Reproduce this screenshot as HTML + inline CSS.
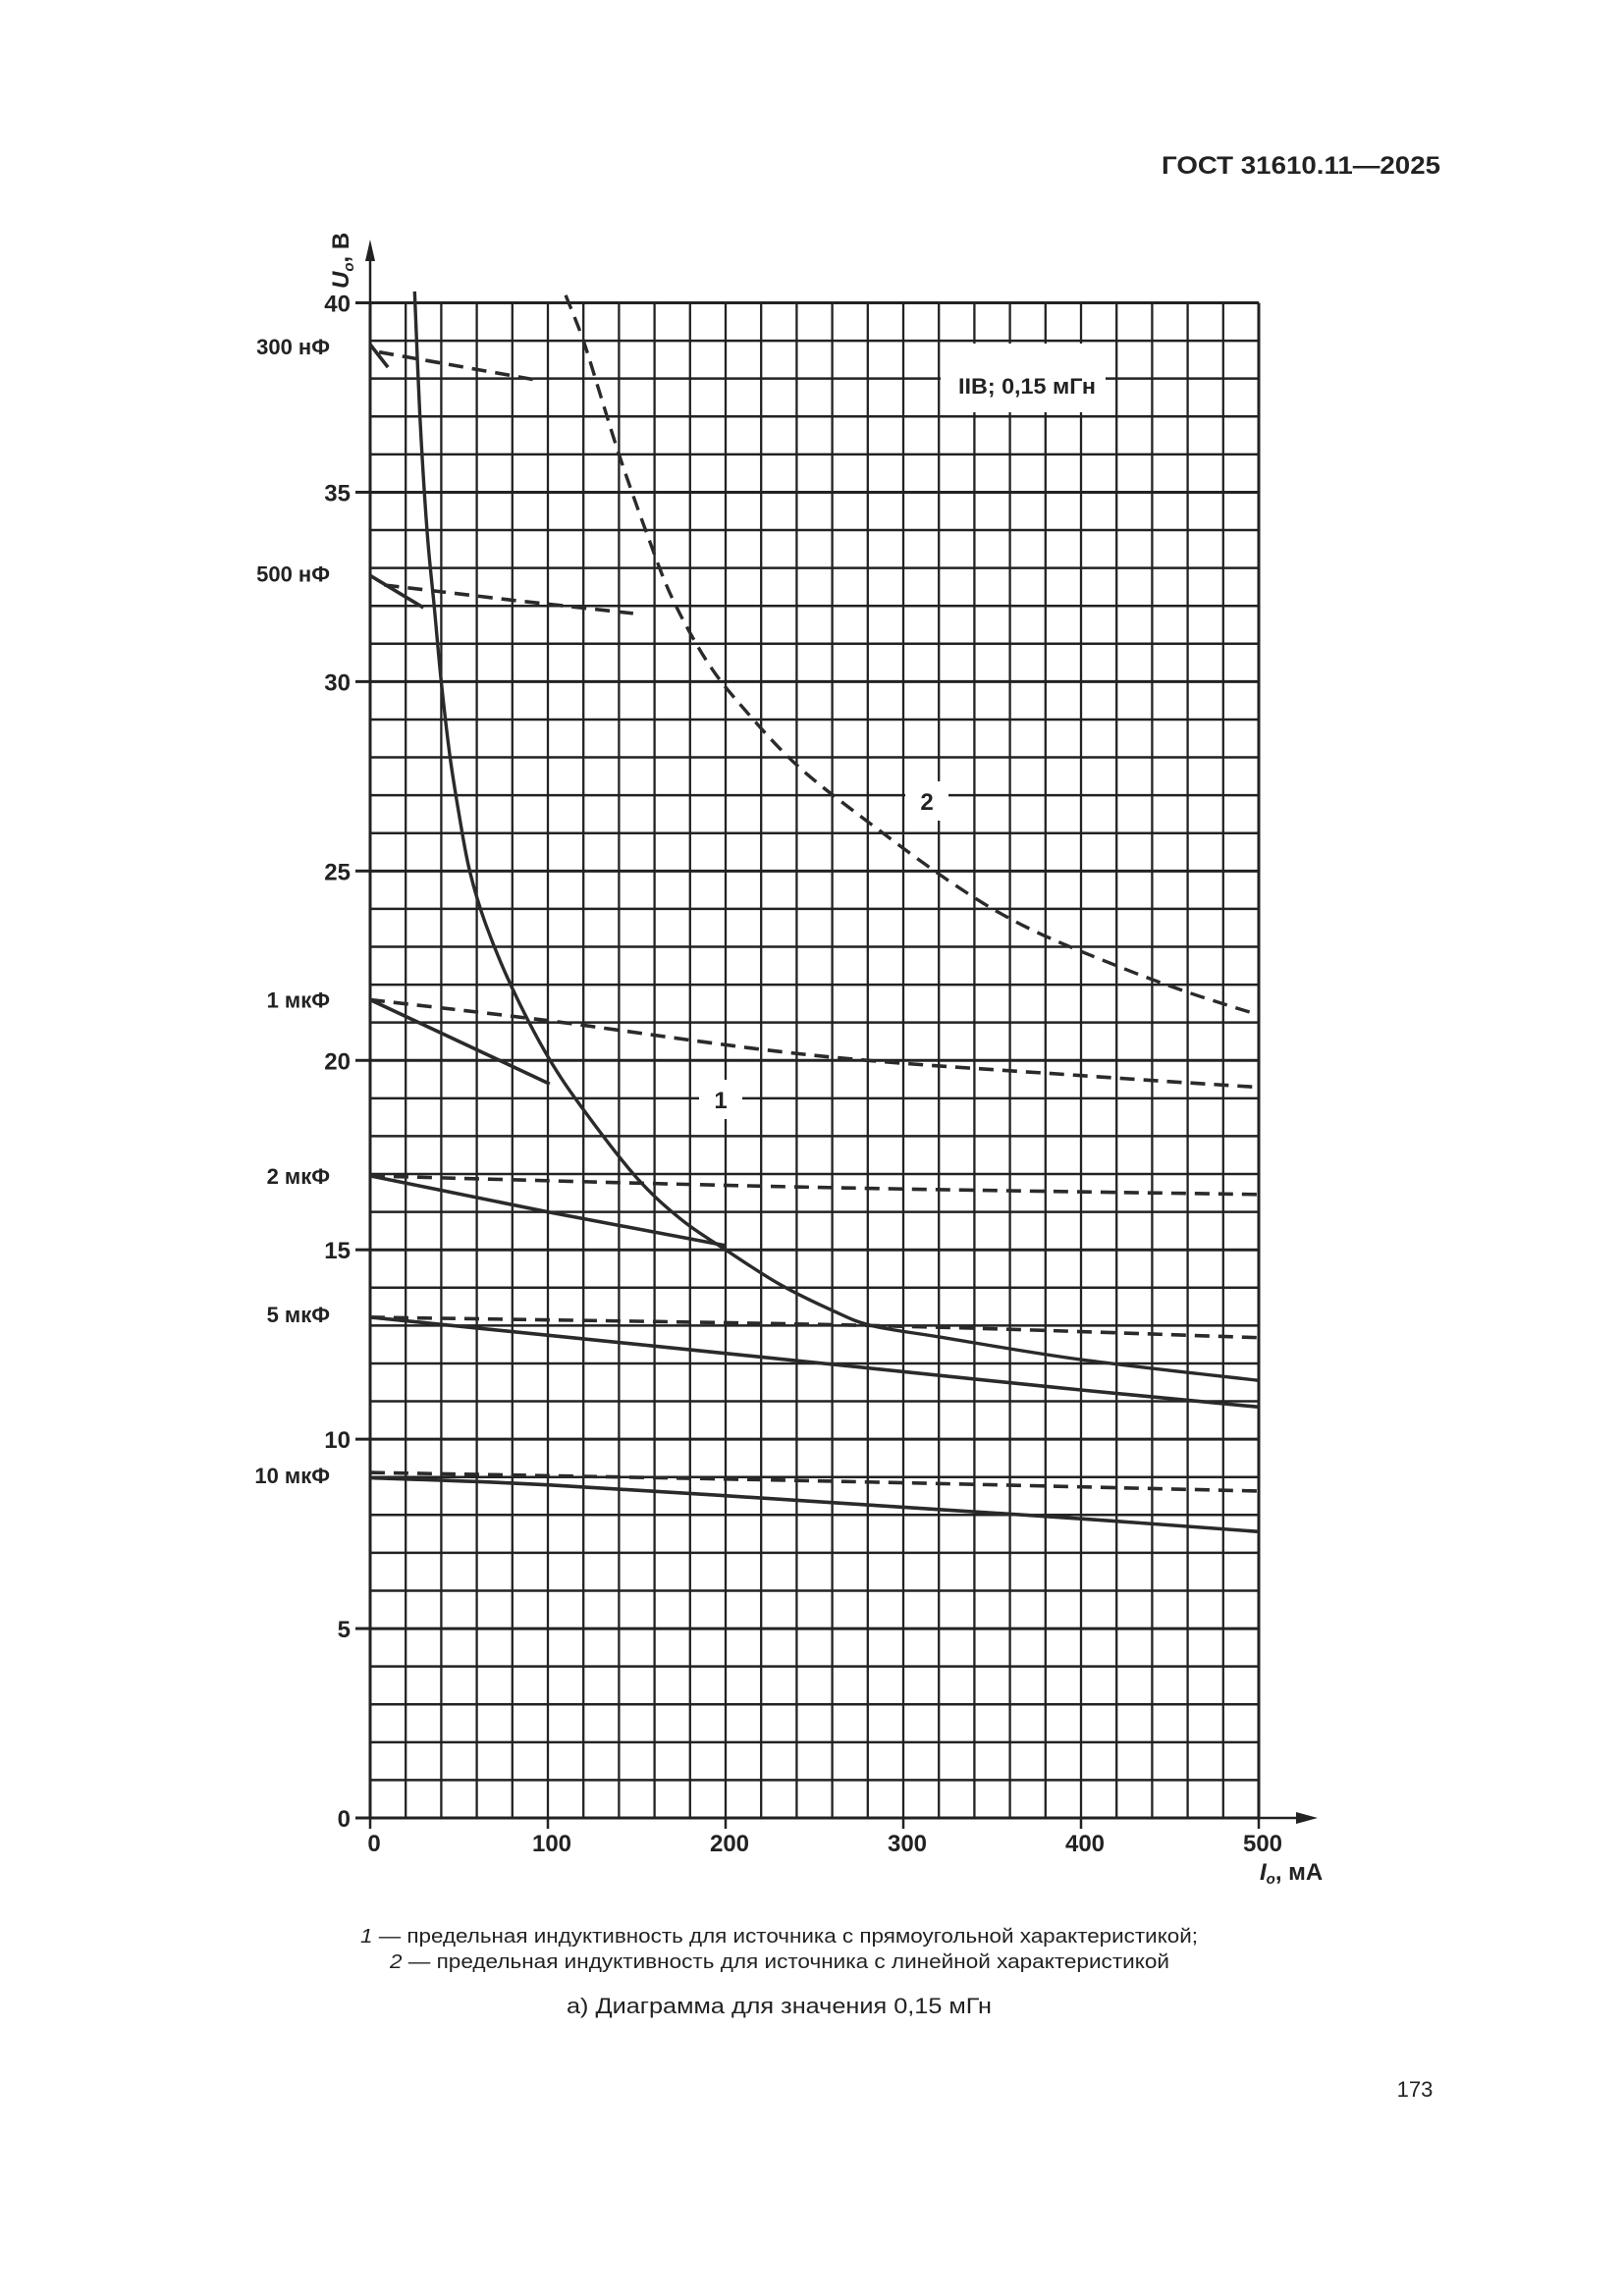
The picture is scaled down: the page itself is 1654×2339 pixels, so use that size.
<!DOCTYPE html>
<html><head><meta charset="utf-8">
<style>
html,body{margin:0;padding:0;background:#fff;}
body{width:1654px;height:2339px;position:relative;overflow:hidden;font-family:"Liberation Sans",sans-serif;color:#222;}
svg{position:absolute;left:0;top:0;}
</style></head>
<body>
<svg id="chart" width="1654" height="2339" viewBox="0 0 1654 2339" xmlns="http://www.w3.org/2000/svg">
  <text x="1183" y="177" font-family="Liberation Sans, sans-serif" font-weight="bold" font-size="25" fill="#222" textLength="284" lengthAdjust="spacingAndGlyphs">ГОСТ 31610.11—2025</text>
  <g id="grid"></g>
  <g id="axes"></g>
  <g id="series"></g>
  <g id="labels"></g>
  <text x="367" y="1979" font-size="20" fill="#222" textLength="853" lengthAdjust="spacingAndGlyphs"><tspan font-style="italic">1</tspan> — предельная индуктивность для источника с прямоугольной характеристикой;</text>
  <text x="397" y="2005" font-size="20" fill="#222" textLength="794" lengthAdjust="spacingAndGlyphs"><tspan font-style="italic">2</tspan> — предельная индуктивность для источника с линейной характеристикой</text>
  <text x="577" y="2051" font-size="22" fill="#222" textLength="433" lengthAdjust="spacingAndGlyphs">а) Диаграмма для значения 0,15 мГн</text>
  <text x="1441" y="2136" text-anchor="middle" font-size="22" fill="#222">173</text>
</svg>
<script>
const xTicks = [0, 100, 200, 300, 400, 500];
const yTicks = [0, 5, 10, 15, 20, 25, 30, 35, 40];
const capLabels = ["300 нФ", "500 нФ", "1 мкФ", "2 мкФ", "5 мкФ", "10 мкФ"];
const capLabelV = [38.85, 32.85, 21.6, 16.95, 13.3, 9.05];
// curve 1 (solid): rectangular source limit
const c1I = [25, 28, 32, 36, 40, 45, 50, 56, 65, 80, 100, 120, 150, 175, 200, 230, 260, 282, 320, 400, 500];
const c1U = [40.3, 37, 34, 32, 30, 28, 26.5, 25, 23.6, 21.9, 20.1, 18.7, 16.9, 15.8, 15, 14.1, 13.4, 13.0, 12.7, 12.1, 11.55];
// curve 2 (dashed): linear source limit
const c2I = [110, 120, 130, 140, 155, 170, 190, 210, 240, 280, 330, 370, 420, 460, 500];
const c2U = [40.2, 39, 37.5, 36, 34, 32.2, 30.5, 29.3, 27.8, 26.3, 24.6, 23.5, 22.5, 21.8, 21.2];
// capacitance lines
const s300I = [0, 10]; const s300U = [38.9, 38.3];
const d300I = [5, 95]; const d300U = [38.7, 37.95];
const s500I = [0, 30]; const s500U = [32.8, 31.95];
const d500I = [8, 80, 148]; const d500U = [32.55, 32.15, 31.8];
const s1I = [0, 101]; const s1U = [21.6, 19.38];
const d1I = [0, 100, 250, 400, 500]; const d1U = [21.6, 21.05, 20.13, 19.6, 19.29];
const s2I = [0, 101, 200]; const s2U = [16.95, 15.99, 15.11];
const d2I = [0, 250, 500]; const d2U = [16.95, 16.65, 16.46];
const s5I = [0, 101, 282, 400, 500]; const s5U = [13.22, 12.74, 11.87, 11.3, 10.85];
const d5I = [0, 282, 500]; const d5U = [13.22, 13.0, 12.68];
const s10I = [0, 101, 282, 400, 500]; const s10U = [8.98, 8.79, 8.26, 7.9, 7.56];
const d10I = [0, 250, 500]; const d10U = [9.12, 8.9, 8.63];

const X0 = 377, X1 = 1282, Y0 = 1852, Y1 = 308.5;
function xs(i){ return X0 + (i/500)*(X1-X0); }
function ys(u){ return Y0 - (u/40)*(Y0-Y1); }
const NS = "http://www.w3.org/2000/svg";
function mk(tag, attrs, parent){ const e=document.createElementNS(NS,tag); for(const k in attrs) e.setAttribute(k,attrs[k]); parent.appendChild(e); return e; }
const grid=document.getElementById('grid'), axes=document.getElementById('axes'), series=document.getElementById('series'), labels=document.getElementById('labels');

for(let i=0;i<=500;i+=20){
  const l=mk('line',{x1:xs(i),y1:ys(0),x2:xs(i),y2:ys(40),stroke:'#222','stroke-width':(i===0||i===500)?3:2.3},grid);
  
  
}
for(let v=0;v<=40;v+=1){
  const l=mk('line',{x1:xs(0),y1:ys(v),x2:xs(500),y2:ys(v),stroke:'#222','stroke-width':(v%5===0)?3:2.5},grid);
  
  
}
let a=mk('line',{x1:X0,y1:Y1,x2:X0,y2:258,stroke:'#222','stroke-width':2.5},axes);


a=mk('polygon',{points:`${X0-5},266 ${X0+5},266 ${X0},244`,fill:'#222'},axes);


a=mk('line',{x1:X1,y1:Y0,x2:1330,y2:Y0,stroke:'#222','stroke-width':2.5},axes);


a=mk('polygon',{points:`1320,1846 1320,1858 1342,1852`,fill:'#222'},axes);



yTicks.forEach(v=>{
  const t=mk('line',{x1:X0-15,y1:ys(v),x2:X0,y2:ys(v),stroke:'#222','stroke-width':3},axes);
  
  
  const tx=mk('text',{x:357,y:ys(v)+9,'text-anchor':'end','font-size':24,'font-weight':'bold',fill:'#222'},labels);
  tx.textContent=String(v);
  
  
});
xTicks.forEach(i=>{
  const t=mk('line',{x1:xs(i),y1:Y0,x2:xs(i),y2:Y0+11,stroke:'#222','stroke-width':2.5},axes);
  
  
  const tx=mk('text',{x:xs(i)+4,y:1886,'text-anchor':'middle','font-size':24,'font-weight':'bold',fill:'#222'},labels);
  tx.textContent=String(i);
  
  
});
capLabels.forEach((s,k)=>{
  const tx=mk('text',{x:336,y:ys(capLabelV[k])+8,'text-anchor':'end','font-size':22,'font-weight':'bold',fill:'#222'},labels);
  tx.textContent=s;
  
  
});

function path(I,U,dashed,name,w){
  const d=I.map((v,k)=>(k?'L':'M')+xs(v).toFixed(1)+','+ys(U[k]).toFixed(1)).join(' ');
  const p=mk('path',{d:d,fill:'none',stroke:'#2a2a2a','stroke-width':w||3.6,'stroke-linejoin':'round'},series);
  if(dashed) p.setAttribute('stroke-dasharray','15 9');
  
  
}
function smooth(I,U,dashed,name,w){
  let d='M'+xs(I[0]).toFixed(1)+','+ys(U[0]).toFixed(1);
  for(let k=0;k<I.length-1;k++){
    const p0=[xs(I[Math.max(0,k-1)]),ys(U[Math.max(0,k-1)])], p1=[xs(I[k]),ys(U[k])], p2=[xs(I[k+1]),ys(U[k+1])], p3=[xs(I[Math.min(I.length-1,k+2)]),ys(U[Math.min(I.length-1,k+2)])];
    const c1=[p1[0]+(p2[0]-p0[0])/6,p1[1]+(p2[1]-p0[1])/6], c2=[p2[0]-(p3[0]-p1[0])/6,p2[1]-(p3[1]-p1[1])/6];
    d+=` C${c1[0].toFixed(1)},${c1[1].toFixed(1)} ${c2[0].toFixed(1)},${c2[1].toFixed(1)} ${p2[0].toFixed(1)},${p2[1].toFixed(1)}`;
  }
  const p=mk('path',{d:d,fill:'none',stroke:'#2a2a2a','stroke-width':w||3.6},series);
  if(dashed) p.setAttribute('stroke-dasharray','15 9');
  
  
}
smooth(c1I,c1U,false,'curve-1-rectangular',3.4);
smooth(c2I,c2U,true,'curve-2-linear',3.4);
path(s300I,s300U,false,'solid-300nf');
path(d300I,d300U,true,'dashed-300nf');
path(s500I,s500U,false,'solid-500nf');
path(d500I,d500U,true,'dashed-500nf');
path(s1I,s1U,false,'solid-1uf');
smooth(d1I,d1U,true,'dashed-1uf');
path(s2I,s2U,false,'solid-2uf');
smooth(d2I,d2U,true,'dashed-2uf');
smooth(s5I,s5U,false,'solid-5uf');
smooth(d5I,d5U,true,'dashed-5uf');
smooth(s10I,s10U,false,'solid-10uf');
smooth(d10I,d10U,true,'dashed-10uf');

let r=mk('rect',{x:958,y:350,width:168,height:70,fill:'#fff'},labels);


let t=mk('text',{x:1046,y:401,'text-anchor':'middle','font-size':22,'font-weight':'bold',fill:'#222',textLength:140,lengthAdjust:'spacingAndGlyphs'},labels);
t.textContent='IIB; 0,15 мГн';


r=mk('rect',{x:922,y:796,width:44,height:40,fill:'#fff'},labels);


t=mk('text',{x:944,y:825,'text-anchor':'middle','font-size':24,'font-weight':'bold',fill:'#222'},labels);
t.textContent='2';


r=mk('rect',{x:712,y:1100,width:44,height:40,fill:'#fff'},labels);


t=mk('text',{x:734,y:1129,'text-anchor':'middle','font-size':24,'font-weight':'bold',fill:'#222'},labels);
t.textContent='1';



t=mk('text',{x:0,y:0,'font-size':24,'font-weight':'bold',fill:'#222',transform:'translate(355,294) rotate(-90)'},labels);
t.innerHTML='<tspan font-style="italic">U</tspan><tspan font-size="15" font-style="italic" dy="5">o</tspan><tspan dy="-5">, В</tspan>';


t=mk('text',{x:1283,y:1915,'font-size':24,'font-weight':'bold',fill:'#222'},labels);
t.innerHTML='<tspan font-style="italic">I</tspan><tspan font-size="15" font-style="italic" dy="4">o</tspan><tspan dy="-4">, мА</tspan>';


</script>
</body></html>
